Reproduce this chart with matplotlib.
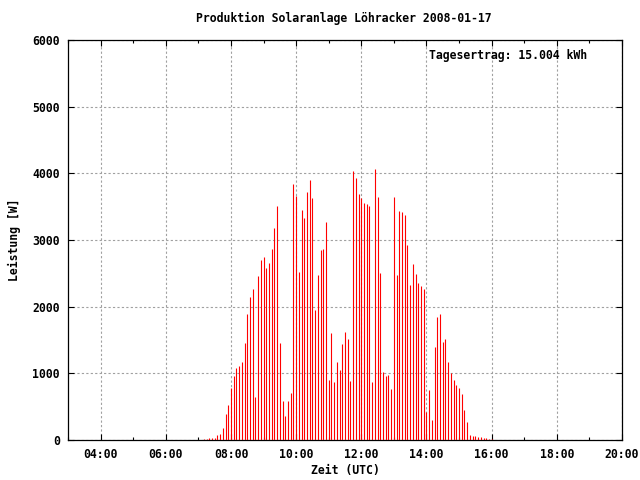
import matplotlib
matplotlib.use("Agg")
import matplotlib.pyplot as plt
from matplotlib.ticker import MultipleLocator, FuncFormatter
import pandas as pd

# Leistung in W, alle 5 Minuten ab 07:10 UTC
start_time = "2008-01-17 07:10"
step = "5min"
power_w = [
    15, 15, 35, 35, 35, 70, 90, 185, 390, 520,
    775, 955, 1075, 1105, 1165, 1450, 1895, 2150, 2270, 640,
    2460, 2700, 2745, 2580, 2655, 2865, 3180, 3505, 1450, 580,
    360, 580, 700, 3835, 3655, 2520, 3450, 3330, 3715, 3895,
    3625, 1955, 2475, 2850, 2865, 3270, 895, 1610, 865, 1165,
    1045, 1435, 1625, 1520, 880, 4030, 3925, 3685, 3625, 3550,
    3535, 3505, 865, 4060, 3640, 2505, 1015, 955, 970, 760,
    3640, 2475, 3435, 3420, 3375, 2925, 2330, 2640, 2490, 2360,
    2315, 2270, 420, 745, 300, 1390, 1850, 1895, 1465, 1520,
    1165, 1000, 895, 820, 775, 685, 450, 270, 75, 60,
    60, 45, 40, 30, 30, 15, 10,
]
title = "Produktion Solaranlage Löhracker 2008-01-17"
yield_text = "Tagesertrag: 15.004 kWh"

times = pd.date_range(start_time, periods=len(power_w), freq=step)
hours = times.hour + times.minute / 60.0

font = {"family": "DejaVu Sans Mono", "weight": "bold", "size": 8.3}

fig = plt.figure(figsize=(6.4, 4.8), dpi=100)
ax = fig.add_axes([68 / 640, 40 / 480, 554 / 640, 400 / 480])

ax.vlines(hours, 0, power_w, colors="#ff0000", linewidth=0.8, zorder=3)

ax.set_xlim(3, 20)
ax.set_ylim(0, 6000)
ax.xaxis.set_major_locator(MultipleLocator(2))
ax.xaxis.set_minor_locator(MultipleLocator(1))
ax.yaxis.set_major_locator(MultipleLocator(1000))
ax.xaxis.set_major_formatter(FuncFormatter(lambda v, p: "%02d:00" % int(round(v))))

ax.grid(True, which="major", color="#a0a0a0", linestyle=(0, (2, 2)), linewidth=0.8)
ax.tick_params(which="both", direction="in", top=True, right=True, color="black")
ax.tick_params(which="major", length=4.5, width=0.8, pad=6)
ax.tick_params(which="minor", length=2.5, width=0.8)
for s in ax.spines.values():
    s.set_linewidth(0.9)

for lab in ax.get_xticklabels() + ax.get_yticklabels():
    lab.set_fontfamily(font["family"])
    lab.set_fontweight("bold")
    lab.set_fontsize(font["size"])

ax.set_xlabel("Zeit (UTC)", fontdict=font, labelpad=2)
ax.set_ylabel("Leistung [W]", fontdict=font, labelpad=8)
fig.text(344 / 640, 1 - 18 / 480, title, ha="center", va="center", fontdict=font)
ax.text(0.937, 0.96, yield_text, transform=ax.transAxes, ha="right", va="center",
        fontdict=font)

fig.savefig("out.png", dpi=100)
